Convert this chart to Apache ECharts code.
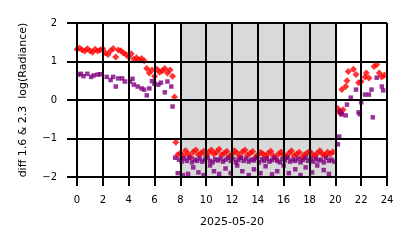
<!DOCTYPE html>
<html><head><meta charset="utf-8">
<script src="https://cdn.jsdelivr.net/npm/echarts@6/dist/echarts.min.js"></script>
<style>html,body{margin:0;padding:0;background:#fff}#c{width:414px;height:248px}</style>
</head><body><div id="c"></div>
<script>
// Data
const xTicks = [0,2,4,6,8,10,12,14,16,18,20,22,24];
const yTicks = [-2,-1,0,1,2];
const shadeRange = [8, 20];
const redHours = [
 0.0,0.2,0.4,0.6,0.8,1.0,1.2,1.4,1.6,1.8,2.0,2.2,2.4,2.6,2.8,3.0,3.2,3.4,3.6,3.8,
 4.0,4.2,4.4,4.6,4.8,5.0,5.2,5.4,5.6,5.8,6.0,6.2,6.4,6.6,6.8,7.0,7.2,7.4,7.55,7.65,7.8,
 8.0,8.2,8.4,8.6,8.8,9.0,9.2,9.4,9.6,9.8,10.0,10.2,10.4,10.6,10.8,11.0,11.2,11.4,11.6,11.8,
 12.0,12.2,12.4,12.6,12.8,13.0,13.2,13.4,13.6,13.8,14.0,14.2,14.4,14.6,14.8,15.0,15.2,15.4,15.6,15.8,
 16.0,16.2,16.4,16.6,16.8,17.0,17.2,17.4,17.6,17.8,18.0,18.2,18.4,18.6,18.8,19.0,19.2,19.4,19.6,19.8,
 20.2,20.3,20.4,20.5,20.6,20.8,20.9,21.0,21.4,21.6,21.8,22.0,22.3,22.4,22.6,23.0,23.2,23.4,23.6,23.8
];
const redValues = [
 1.32,1.35,1.30,1.27,1.33,1.28,1.24,1.32,1.27,1.30,1.33,1.22,1.18,1.28,1.34,1.12,1.30,1.28,1.22,1.18,
 1.12,1.20,1.06,1.10,1.04,1.08,1.02,0.82,0.70,0.78,0.62,0.80,0.72,0.76,0.82,0.70,0.78,0.62,0.08,-1.10,-1.42,
 -1.38,-1.45,-1.32,-1.40,-1.48,-1.35,-1.30,-1.42,-1.38,-1.33,-1.45,-1.36,-1.30,-1.40,-1.35,-1.28,-1.42,-1.38,-1.33,-1.46,
 -1.40,-1.32,-1.38,-1.48,-1.35,-1.30,-1.43,-1.38,-1.34,-1.50,-1.42,-1.36,-1.40,-1.47,-1.38,-1.33,-1.45,-1.52,-1.40,-1.35,
 -1.43,-1.48,-1.38,-1.32,-1.45,-1.40,-1.36,-1.50,-1.42,-1.38,-1.33,-1.40,-1.46,-1.38,-1.32,-1.40,-1.44,-1.36,-1.40,-1.35,
 -0.22,-0.30,-0.35,0.27,-0.25,0.35,0.50,0.74,0.80,0.66,0.45,0.48,0.60,0.70,0.57,0.87,0.92,0.70,0.60,0.65
];
const purpleHours = [
 0.1,0.3,0.5,0.8,1.1,1.3,1.6,1.8,2.3,2.6,2.8,3.0,3.2,3.5,3.7,4.1,4.3,4.4,4.7,5.0,5.2,5.4,5.6,5.8,6.0,6.3,6.5,6.8,7.0,7.3,7.4,7.6,
 7.9,8.1,8.3,8.5,8.7,8.9,9.1,9.3,9.5,9.7,9.9,10.1,10.3,10.5,10.7,10.9,11.1,11.3,11.5,11.7,11.9,12.1,12.3,12.5,12.7,12.9,
 13.1,13.3,13.5,13.7,13.9,14.1,14.3,14.5,14.7,14.9,15.1,15.3,15.5,15.7,15.9,16.1,16.3,16.5,16.7,16.9,17.1,17.3,17.5,17.7,17.9,
 18.1,18.3,18.5,18.7,18.9,19.1,19.3,19.5,19.7,19.9,
 7.8,8.2,8.6,9.0,9.4,9.8,10.3,10.6,11.0,11.5,11.9,12.4,12.8,13.3,13.7,14.2,14.6,15.1,15.5,16.0,16.4,16.9,17.3,17.7,18.2,18.6,19.1,19.5,
 20.2,20.3,20.4,20.5,20.8,20.9,21.2,21.6,21.8,21.9,22.0,22.3,22.6,22.8,22.9,23.2,23.6,23.7
];
const purpleValues = [
 0.66,0.68,0.62,0.68,0.60,0.64,0.66,0.67,0.60,0.52,0.60,0.35,0.56,0.56,0.48,0.48,0.55,0.40,0.35,0.30,0.27,0.12,0.30,0.49,0.42,0.40,0.45,0.20,0.48,0.35,-0.17,-1.50,
 -1.55,-1.60,-1.52,-1.58,-1.50,-1.62,-1.55,-1.58,-1.52,-1.60,-1.55,-1.50,-1.58,-1.62,-1.54,-1.57,-1.52,-1.60,-1.55,-1.50,-1.58,-1.53,
 -1.62,-1.56,-1.50,-1.58,-1.52,-1.60,-1.55,-1.57,-1.50,-1.62,-1.54,-1.58,-1.52,-1.60,-1.56,-1.50,-1.58,-1.62,-1.53,-1.57,
 -1.50,-1.60,-1.55,-1.58,-1.52,-1.62,-1.56,-1.50,-1.58,-1.54,-1.60,-1.52,-1.57,-1.55,-1.62,-1.50,-1.58,-1.55,-1.60,
 -1.90,-1.95,-1.92,-1.75,-1.88,-1.95,-1.70,-1.85,-1.92,-1.78,-1.90,-1.70,-1.85,-1.95,-1.80,-1.90,-1.72,-1.93,-1.85,-1.70,-1.90,-1.80,-1.95,-1.75,-1.88,-1.70,-1.82,-1.92,
 -1.15,-0.95,-0.30,-0.37,-0.40,-0.12,0.06,0.27,-0.32,-0.37,-0.06,0.14,0.14,0.27,-0.45,0.58,0.35,0.25
];

const pair = (xs, ys) => xs.map((x, i) => [x, ys[i]]);
const minusFmt = v => (v < 0 ? '\u2212' + (-v) : String(v));
const font = 'DejaVu Sans';
const gridLines = xTicks.map(v => ({xAxis: v})).concat(yTicks.map(v => ({yAxis: v})));

const chart = echarts.init(document.getElementById('c'), null, {renderer: 'canvas'});
chart.setOption({
  animation: false,
  backgroundColor: '#fff',
  grid: {left: 77, right: 27, top: 23, bottom: 71, containLabel: false},
  xAxis: {
    type: 'value', min: xTicks[0], max: xTicks[xTicks.length - 1], interval: 2, z: 3,
    axisLine: {show: true, onZero: false, lineStyle: {color: '#000', width: 2}},
    axisTick: {show: true, length: 9, lineStyle: {color: '#000', width: 2}},
    splitLine: {show: true, lineStyle: {color: '#000', width: 2}},
    axisLabel: {margin: 18, fontSize: 10, color: '#000', fontFamily: font},
    name: '2025-05-20', nameLocation: 'middle', nameGap: 40,
    nameTextStyle: {fontSize: 11, color: '#000', fontFamily: font}
  },
  yAxis: {
    type: 'value', min: yTicks[0], max: yTicks[yTicks.length - 1], interval: 1, z: 3,
    axisLine: {show: true, onZero: false, lineStyle: {color: '#000', width: 2}},
    axisTick: {show: true, length: 10, lineStyle: {color: '#000', width: 2}},
    splitLine: {show: true, lineStyle: {color: '#000', width: 2}},
    axisLabel: {margin: 20, fontSize: 10, color: '#000', fontFamily: font, formatter: minusFmt},
    name: 'diff 1.6 & 2.3  log(Radiance)', nameLocation: 'middle', nameGap: 48, nameRotate: 90,
    nameTextStyle: {fontSize: 11, color: '#000', fontFamily: font}
  },
  series: [
    {
      type: 'scatter', symbol: 'diamond', symbolSize: 7,
      itemStyle: {color: '#ff0000'},
      data: pair(redHours, redValues),
      markArea: {
        silent: true,
        itemStyle: {color: '#d9d9d9'},
        data: [[{xAxis: shadeRange[0]}, {xAxis: shadeRange[1]}]]
      }
    },
    {
      type: 'scatter', symbol: 'rect', symbolSize: 4.5,
      itemStyle: {color: '#800080'},
      data: pair(purpleHours, purpleValues),
      markLine: {
        silent: true, symbol: 'none', animation: false,
        label: {show: false},
        lineStyle: {color: '#000', width: 2, type: 'solid', opacity: 1},
        emphasis: {disabled: true},
        data: gridLines
      }
    }
  ]
});
</script>
</body></html>
